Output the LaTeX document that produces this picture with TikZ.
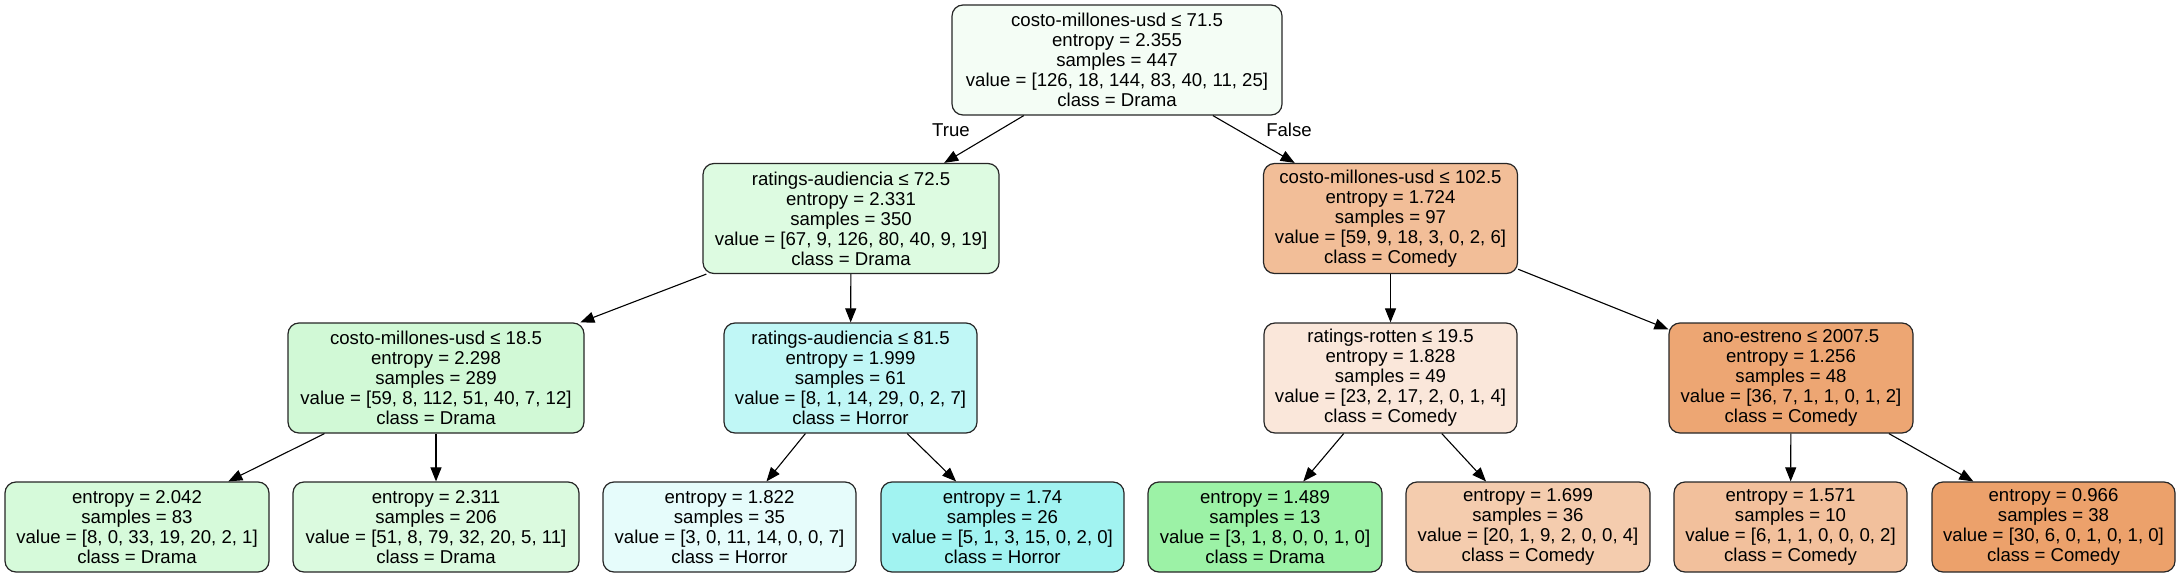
\documentclass[tikz,border=0pt]{standalone}
\usepackage{fontspec}
\setmainfont{Liberation Sans}
\usetikzlibrary{arrows.meta}
\definecolor{c0}{RGB}{244,253,245}
\definecolor{c1}{RGB}{221,251,225}
\definecolor{c2}{RGB}{242,190,152}
\definecolor{c3}{RGB}{209,249,214}
\definecolor{c4}{RGB}{192,247,246}
\definecolor{c5}{RGB}{250,231,218}
\definecolor{c6}{RGB}{237,166,115}
\definecolor{c7}{RGB}{214,250,218}
\definecolor{c8}{RGB}{219,250,223}
\definecolor{c9}{RGB}{230,252,251}
\definecolor{c10}{RGB}{161,243,241}
\definecolor{c11}{RGB}{156,242,166}
\definecolor{c12}{RGB}{244,204,174}
\definecolor{c13}{RGB}{242,192,156}
\definecolor{c14}{RGB}{236,161,107}
\tikzset{
  tnode/.style={draw=black!85, line width=1.2pt, rounded corners=11pt, align=center,
    inner sep=0pt, font=\fontsize{18.6}{20}\selectfont},
  split/.style={tnode, minimum height=110pt},
  leaf/.style={tnode, minimum height=90pt},
  edge/.style={draw=black, line width=1.1pt, -{Triangle[length=14pt,width=11pt]}},
  elab/.style={font=\fontsize{18.6}{20}\selectfont, inner sep=0pt}
}
\begin{document}
\begin{tikzpicture}[x=1pt,y=-1pt]
\useasboundingbox (0,0) rectangle (2181,577);
% level 0
\node[split, fill=c0, minimum width=330pt] (root) at (1117,60)
  {costo-millones-usd ≤ 71.5\\entropy = 2.355\\samples = 447\\value = [126, 18, 144, 83, 40, 11, 25]\\class = Drama};
% level 1
\node[split, fill=c1, minimum width=296pt] (a) at (851,218.5)
  {ratings-audiencia ≤ 72.5\\entropy = 2.331\\samples = 350\\value = [67, 9, 126, 80, 40, 9, 19]\\class = Drama};
\node[split, fill=c2, minimum width=254pt] (b) at (1390.5,218.5)
  {costo-millones-usd ≤ 102.5\\entropy = 1.724\\samples = 97\\value = [59, 9, 18, 3, 0, 2, 6]\\class = Comedy};
% level 2
\node[split, fill=c3, minimum width=296pt] (aa) at (436,378)
  {costo-millones-usd ≤ 18.5\\entropy = 2.298\\samples = 289\\value = [59, 8, 112, 51, 40, 7, 12]\\class = Drama};
\node[split, fill=c4, minimum width=253pt] (ab) at (850.5,378)
  {ratings-audiencia ≤ 81.5\\entropy = 1.999\\samples = 61\\value = [8, 1, 14, 29, 0, 2, 7]\\class = Horror};
\node[split, fill=c5, minimum width=253pt] (ba) at (1390.5,378)
  {ratings-rotten ≤ 19.5\\entropy = 1.828\\samples = 49\\value = [23, 2, 17, 2, 0, 1, 4]\\class = Comedy};
\node[split, fill=c6, minimum width=244pt] (bb) at (1791,378)
  {ano-estreno ≤ 2007.5\\entropy = 1.256\\samples = 48\\value = [36, 7, 1, 1, 0, 1, 2]\\class = Comedy};
% level 3
\node[leaf, fill=c7, minimum width=264pt] (l1) at (137,527)
  {entropy = 2.042\\samples = 83\\value = [8, 0, 33, 19, 20, 2, 1]\\class = Drama};
\node[leaf, fill=c8, minimum width=286pt] (l2) at (436,527)
  {entropy = 2.311\\samples = 206\\value = [51, 8, 79, 32, 20, 5, 11]\\class = Drama};
\node[leaf, fill=c9, minimum width=253pt] (l3) at (729.5,527)
  {entropy = 1.822\\samples = 35\\value = [3, 0, 11, 14, 0, 0, 7]\\class = Horror};
\node[leaf, fill=c10, minimum width=243pt] (l4) at (1002.5,527)
  {entropy = 1.74\\samples = 26\\value = [5, 1, 3, 15, 0, 2, 0]\\class = Horror};
\node[leaf, fill=c11, minimum width=234pt] (l5) at (1265,527)
  {entropy = 1.489\\samples = 13\\value = [3, 1, 8, 0, 0, 1, 0]\\class = Drama};
\node[leaf, fill=c12, minimum width=244pt] (l6) at (1528,527)
  {entropy = 1.699\\samples = 36\\value = [20, 1, 9, 2, 0, 0, 4]\\class = Comedy};
\node[leaf, fill=c13, minimum width=233pt] (l7) at (1790.5,527)
  {entropy = 1.571\\samples = 10\\value = [6, 1, 1, 0, 0, 0, 2]\\class = Comedy};
\node[leaf, fill=c14, minimum width=243pt] (l8) at (2053.5,527)
  {entropy = 0.966\\samples = 38\\value = [30, 6, 0, 1, 0, 1, 0]\\class = Comedy};
% edges
\draw[edge] (root) -- (a);
\draw[edge] (root) -- (b);
\draw[edge] (a) -- (aa);
\draw[edge] (a) -- (ab);
\draw[edge] (b) -- (ba);
\draw[edge] (b) -- (bb);
\draw[edge] (aa) -- (l1);
\draw[edge] (aa) -- (l2);
\draw[edge] (ab) -- (l3);
\draw[edge] (ab) -- (l4);
\draw[edge] (ba) -- (l5);
\draw[edge] (ba) -- (l6);
\draw[edge] (bb) -- (l7);
\draw[edge] (bb) -- (l8);
% edge labels
\node[elab] (ltrue) at (951,130) {True};
\node[elab] (lfalse) at (1289,130) {False};
\end{tikzpicture}
\end{document}
